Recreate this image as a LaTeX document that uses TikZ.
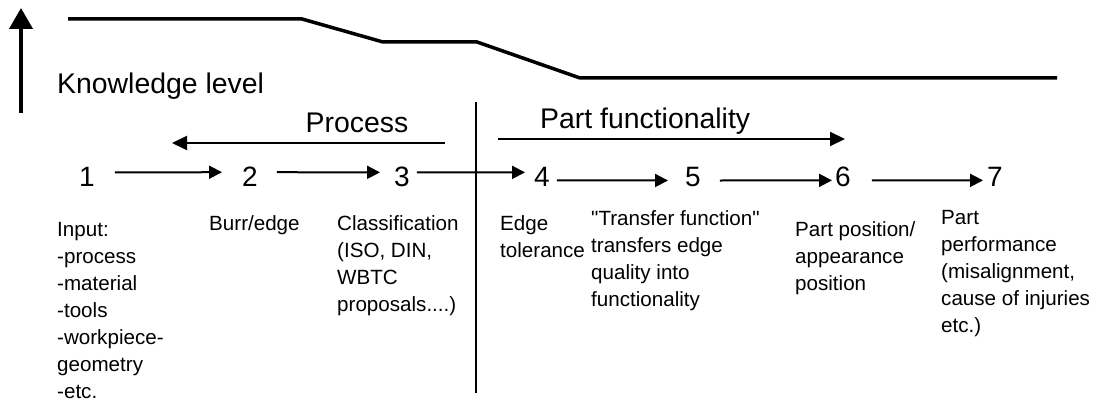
\documentclass[tikz,border=0pt]{standalone}
\usepackage{fontspec}
\setmainfont{Liberation Sans}
\newfontfamily\qfont{Liberation Sans}
\newcommand{\sq}{{\qfont\symbol{34}}}
\usetikzlibrary{arrows.meta}
\begin{document}
\begin{tikzpicture}[x=1pt,y=-1pt,
  lvl/.style={line width=3.5pt},
  uparr/.style={line width=4pt,-{Triangle[length=21pt,width=23pt]}},
  arr/.style={line width=2pt,-{Triangle[length=13pt,width=13pt]}},
  bigarr/.style={line width=2pt,-{Triangle[length=15pt,width=14pt]}},
  divider/.style={line width=1.8pt},
  digit/.style={anchor=base,inner sep=0pt,font=\fontsize{28}{28}\selectfont},
  headtxt/.style={anchor=base west,inner sep=0pt,font=\fontsize{28.4}{30}\selectfont},
  lowtxt/.style={anchor=base west,inner sep=0pt,font=\fontsize{20.6}{27}\selectfont}]
\useasboundingbox (0,0) rectangle (1098,403);

% knowledge level axis
\coordinate (ka) at (21,113);
\coordinate (kb) at (21,8);
\draw[uparr] (ka) -- (kb);
\draw[lvl] (68,19) -- (302,19) -- (383,42) -- (477,42) -- (580,78) -- (1057,78);
\node[headtxt] (know) at (57,94) {Knowledge level};

% divider
\coordinate (da) at (476,102);
\coordinate (db) at (476,393);
\draw[divider] (da) -- (db);

% process / part functionality
\node[headtxt,anchor=base] (proc) at (357,133) {Process};
\coordinate (pa) at (445,143);
\coordinate (pb) at (172,143);
\draw[bigarr] (pa) -- (pb);
\node[headtxt] (pf) at (540,129) {Part functionality};
\coordinate (fa) at (498,139);
\coordinate (fb) at (845,139);
\draw[bigarr] (fa) -- (fb);

% digits
\node[digit] (n1) at (87,187) {1};
\node[digit] (n2) at (250,187) {2};
\node[digit] (n3) at (402,187) {3};
\node[digit] (n4) at (542,187) {4};
\node[digit] (n5) at (693,187) {5};
\node[digit] (n6) at (843,187) {6};
\node[digit] (n7) at (995,187) {7};

\draw[arr] ([xshift=20pt,yshift=5pt]n1.east) -- ([xshift=-20pt,yshift=5pt]n2.west);
\draw[arr] ([xshift=19pt,yshift=5pt]n2.east) -- ([xshift=-14pt,yshift=5pt]n3.west);
\draw[arr] ([xshift=7pt,yshift=5pt]n3.east) -- ([xshift=-9pt,yshift=5pt]n4.west);
\draw[arr] ([xshift=7pt,yshift=-3pt]n4.east) -- ([xshift=-17pt,yshift=-3pt]n5.west);
\draw[arr] ([xshift=19pt,yshift=-3pt]n5.east) -- ([xshift=-3pt,yshift=-3pt]n6.west);
\draw[arr] ([xshift=21pt,yshift=-3pt]n6.east) -- ([xshift=-4pt,yshift=-3pt]n7.west);

% descriptions
\node[lowtxt] (d1) at (57,237) {\parbox[t]{140pt}{Input:\\-process\\-material\\-tools\\-workpiece-\\geometry\\-etc.}};
\node[lowtxt] (d2) at (209,231) {\parbox[t]{110pt}{Burr/edge}};
\node[lowtxt] (d3) at (337,231) {\parbox[t]{130pt}{Classification\\(ISO, DIN,\\WBTC\\proposals....)}};
\node[lowtxt] (d4) at (500,231) {\parbox[t]{90pt}{Edge\\tolerance}};
\node[lowtxt] (d5) at (591,226) {\parbox[t]{190pt}{\sq Transfer function\sq\\transfers edge\\quality into\\functionality}};
\node[lowtxt] (d6) at (795,237) {\parbox[t]{140pt}{Part position/\\appearance\\position}};
\node[lowtxt] (d7) at (941,225) {\parbox[t]{155pt}{Part\\performance\\(misalignment,\\cause of injuries\\etc.)}};
\end{tikzpicture}
\end{document}
